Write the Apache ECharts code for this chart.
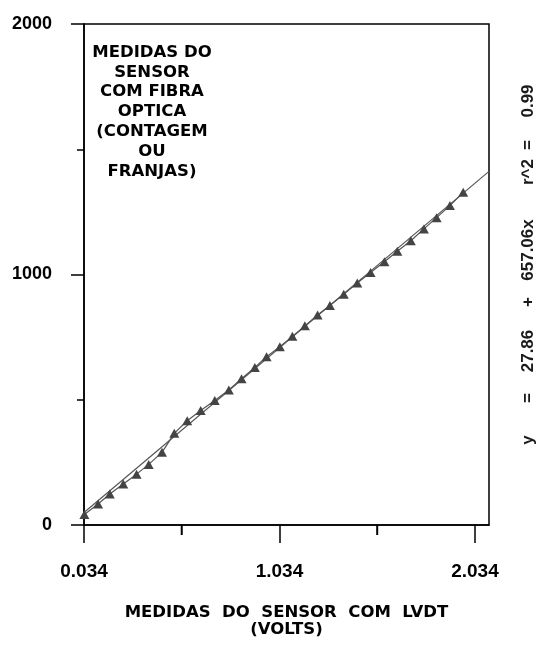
<!DOCTYPE html>
<html>
<head>
<meta charset="utf-8">
<title>Medidas do sensor com fibra optica x LVDT</title>
<script src="https://cdn.jsdelivr.net/npm/echarts@6/dist/echarts.min.js"></script>
<style>
  html, body { margin: 0; padding: 0; background: #fff; }
  #chart { width: 542px; height: 646px; }
</style>
</head>
<body>
<div id="chart"></div>
<script>
// leituras do LVDT (volts)
const lvdtVolts = [0.036, 0.106, 0.166, 0.235, 0.303, 0.365, 0.433, 0.496, 0.562, 0.631,
  0.703, 0.775, 0.840, 0.908, 0.968, 1.036, 1.100, 1.164, 1.229, 1.292,
  1.363, 1.432, 1.500, 1.571, 1.637, 1.706, 1.773, 1.838, 1.906, 1.974]
// contagem de franjas do sensor com fibra optica
const fringeCounts = [42, 84, 124, 164, 203, 242, 290, 366, 416, 457,
  497, 539, 584, 629, 672, 712, 753, 795, 838, 876,
  921, 966, 1008, 1051, 1093, 1135, 1182, 1227, 1275, 1328]

const xTickLabels = [0.034, 1.034, 2.034]
const xMinorTicks = [0.534, 1.534]
const xMin = 0.034
const xMax = 2.106

// reta ajustada: y = a + b x
const fitA = 27.86
const fitB = 657.06
const fitR2 = 0.99

const fitLine = [xMin, xMax].map(x => [x, fitA + fitB * x])

const black = '#000'
const labelFont = { fontFamily: 'Liberation Sans', fontWeight: 'bold', color: black }
const titleFont = { fontFamily: 'DejaVu Sans', fontWeight: 'bold', color: black }
const axisStroke = { color: black, width: 1.5 }

// texto vertical da direita, peca por peca
const eqPieces = [
  { text: 'y', y: 440 },
  { text: '=', y: 398 },
  { text: fitA.toFixed(2), y: 351 },
  { text: '+', y: 302 },
  { text: fitB.toFixed(2) + 'x', y: 250 },
  { text: 'r^2', y: 172 },
  { text: '=', y: 145 },
  { text: fitR2.toFixed(2), y: 101 }
]

const textGraphics = [
  {
    id: 'title',
    type: 'text',
    x: 152,
    y: 112,
    style: {
      text: 'MEDIDAS DO\nSENSOR\nCOM FIBRA\nOPTICA\n(CONTAGEM\nOU\nFRANJAS)',
      align: 'center',
      verticalAlign: 'middle',
      lineHeight: 19.8,
      font: 'bold 16.5px "DejaVu Sans"',
      fill: black
    }
  },
  ...eqPieces.map((p, i) => ({
    id: 'eq' + i,
    type: 'text',
    x: 528,
    y: p.y,
    rotation: Math.PI / 2,
    style: {
      text: p.text,
      align: 'center',
      verticalAlign: 'middle',
      font: 'bold 17px "Liberation Sans"',
      fill: '#1a1a1a'
    }
  }))
]

const chart = echarts.init(document.getElementById('chart'))

chart.setOption({
  backgroundColor: '#fff',
  animation: false,
  grid: {
    left: 84,
    right: 53,
    top: 24,
    bottom: 121,
    show: true,
    borderColor: black,
    borderWidth: 1.5,
    backgroundColor: 'transparent'
  },
  xAxis: {
    type: 'value',
    min: xMin,
    max: xMax,
    position: 'bottom',
    axisLine: { show: true, onZero: false, lineStyle: axisStroke },
    axisTick: { show: true, length: 18, customValues: xTickLabels, lineStyle: axisStroke },
    axisLabel: {
      customValues: xTickLabels,
      formatter: v => v.toFixed(3),
      margin: 37,
      fontSize: 19,
      ...labelFont
    },
    splitLine: { show: false },
    name: 'MEDIDAS  DO  SENSOR  COM  LVDT\n(VOLTS)',
    nameLocation: 'middle',
    nameGap: 79,
    nameTextStyle: { fontSize: 16.5, lineHeight: 17, ...titleFont }
  },
  yAxis: {
    type: 'value',
    min: 0,
    max: 2000,
    interval: 1000,
    axisLine: { show: true, onZero: false, lineStyle: axisStroke },
    axisTick: { show: true, length: 13, lineStyle: axisStroke },
    minorTick: { show: true, splitNumber: 2, length: 7, lineStyle: axisStroke },
    axisLabel: { margin: 32, fontSize: 18, formatter: v => String(v), ...labelFont },
    splitLine: { show: false }
  },
  graphic: textGraphics,
  series: [
    {
      type: 'line',
      data: lvdtVolts.map((v, i) => [v, fringeCounts[i]]),
      symbol: 'triangle',
      symbolSize: [10, 9],
      itemStyle: { color: '#444' },
      lineStyle: { color: '#555', width: 1.2 },
      z: 3
    },
    {
      // reta ajustada
      type: 'line',
      data: fitLine,
      symbol: 'none',
      lineStyle: { color: '#555', width: 1.2 },
      z: 2
    }
  ]
})

// ticks menores do eixo x (0.534 e 1.534), posicionados pela escala do eixo
const minorTickLines = xMinorTicks.map((v, i) => {
  const px = chart.convertToPixel({ xAxisIndex: 0 }, v)
  const py = chart.convertToPixel({ yAxisIndex: 0 }, 0)
  return {
    id: 'minor' + i,
    type: 'rect',
    z: 100,
    silent: true,
    shape: { x: px - 1, y: py, width: 2, height: 10 },
    style: { fill: black }
  }
})

chart.setOption({ graphic: [...textGraphics, ...minorTickLines] })
</script>
</body>
</html>
